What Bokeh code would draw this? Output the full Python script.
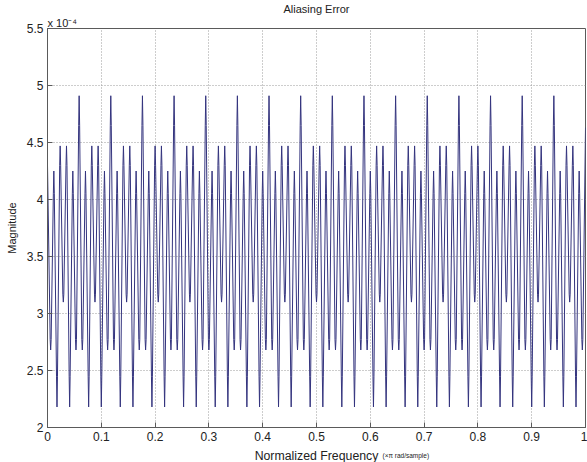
import numpy as np
from bokeh.plotting import figure
from bokeh.layouts import column
from bokeh.models import FixedTicker, CustomJSTickFormatter, Range1d, Title
from bokeh.core.properties import value
from bokeh.embed import file_html
from bokeh.resources import INLINE

FONT = "Liberation Sans"
INK = "#222222"
FRAME = "#5a5a5a"

# Extrema of the aliasing error fall on a uniform 1/170 grid (x pi rad/sample)
n_steps = 170
freq_grid = np.linspace(0.0, 1.0, n_steps + 1)

# Magnitude at each extremum, in units of 1e-4 (peak, dip, peak, dip, ...);
# each row spans one 1/17-wide period
extrema = [
    4.30, 2.68, 4.25, 2.18, 4.47, 3.10, 4.47, 2.18, 4.25, 2.68,
    4.91, 2.68, 4.25, 2.18, 4.47, 3.10, 4.47, 2.18, 4.25, 2.68,
    4.91, 2.68, 4.25, 2.18, 4.47, 3.10, 4.47, 2.18, 4.25, 2.68,
    4.91, 2.68, 4.25, 2.18, 4.47, 3.10, 4.47, 2.18, 4.25, 2.68,
    4.91, 2.68, 4.25, 2.18, 4.47, 3.10, 4.47, 2.18, 4.25, 2.68,
    4.91, 2.68, 4.25, 2.18, 4.47, 3.10, 4.47, 2.18, 4.25, 2.68,
    4.91, 2.68, 4.25, 2.18, 4.47, 3.10, 4.47, 2.18, 4.25, 2.68,
    4.91, 2.68, 4.25, 2.18, 4.47, 3.10, 4.47, 2.18, 4.25, 2.68,
    4.91, 2.68, 4.25, 2.18, 4.47, 3.10, 4.47, 2.18, 4.25, 2.68,
    4.91, 2.68, 4.25, 2.18, 4.47, 3.10, 4.47, 2.18, 4.25, 2.68,
    4.91, 2.68, 4.25, 2.18, 4.47, 3.10, 4.47, 2.18, 4.25, 2.68,
    4.91, 2.68, 4.25, 2.18, 4.47, 3.10, 4.47, 2.18, 4.25, 2.68,
    4.91, 2.68, 4.25, 2.18, 4.47, 3.10, 4.47, 2.18, 4.25, 2.68,
    4.91, 2.68, 4.25, 2.18, 4.47, 3.10, 4.47, 2.18, 4.25, 2.68,
    4.91, 2.68, 4.25, 2.18, 4.47, 3.10, 4.47, 2.18, 4.25, 2.68,
    4.91, 2.68, 4.25, 2.18, 4.47, 3.10, 4.47, 2.18, 4.25, 2.68,
    4.91, 2.68, 4.25, 2.18, 4.47, 3.10, 4.47, 2.18, 4.25, 2.68,
    4.63,
]

# Level at which the thin tip of each extremum opens into its flanks
shoulders = [
    4.30, 2.77, 4.05, 2.45, 4.30, 3.17, 4.30, 2.45, 4.05, 2.77,
    4.65, 2.77, 4.05, 2.45, 4.30, 3.17, 4.30, 2.45, 4.05, 2.77,
    4.65, 2.77, 4.05, 2.45, 4.30, 3.17, 4.30, 2.45, 4.05, 2.77,
    4.65, 2.77, 4.05, 2.45, 4.30, 3.17, 4.30, 2.45, 4.05, 2.77,
    4.65, 2.77, 4.05, 2.45, 4.30, 3.17, 4.30, 2.45, 4.05, 2.77,
    4.65, 2.77, 4.05, 2.45, 4.30, 3.17, 4.30, 2.45, 4.05, 2.77,
    4.65, 2.77, 4.05, 2.45, 4.30, 3.17, 4.30, 2.45, 4.05, 2.77,
    4.65, 2.77, 4.05, 2.45, 4.30, 3.17, 4.30, 2.45, 4.05, 2.77,
    4.65, 2.77, 4.05, 2.45, 4.30, 3.17, 4.30, 2.45, 4.05, 2.77,
    4.65, 2.77, 4.05, 2.45, 4.30, 3.17, 4.30, 2.45, 4.05, 2.77,
    4.65, 2.77, 4.05, 2.45, 4.30, 3.17, 4.30, 2.45, 4.05, 2.77,
    4.65, 2.77, 4.05, 2.45, 4.30, 3.17, 4.30, 2.45, 4.05, 2.77,
    4.65, 2.77, 4.05, 2.45, 4.30, 3.17, 4.30, 2.45, 4.05, 2.77,
    4.65, 2.77, 4.05, 2.45, 4.30, 3.17, 4.30, 2.45, 4.05, 2.77,
    4.65, 2.77, 4.05, 2.45, 4.30, 3.17, 4.30, 2.45, 4.05, 2.77,
    4.65, 2.77, 4.05, 2.45, 4.30, 3.17, 4.30, 2.45, 4.05, 2.77,
    4.65, 2.77, 4.05, 2.45, 4.30, 3.17, 4.30, 2.45, 4.05, 2.77,
    4.63,
]

x_ticks = [0, 0.1, 0.2, 0.3, 0.4, 0.5, 0.6, 0.7, 0.8, 0.9, 1]
y_ticks = [2, 2.5, 3, 3.5, 4, 4.5, 5, 5.5]

# Trace: each extremum is a narrow tip sitting on top of its shoulder level
tip_halfwidth = 0.0009
xs, ys = [], []
for f, e, s in zip(freq_grid, extrema, shoulders):
    if e == s:
        xs.append(f)
        ys.append(e)
    else:
        xs += [f - tip_halfwidth, f, f + tip_halfwidth]
        ys += [s, e, s]

LEFT, RIGHT = 47, 2

# Main axes
p = figure(
    width=587, height=445, output_backend="svg", toolbar_location=None,
    x_range=Range1d(0, 1), y_range=Range1d(2, 5.5),
    min_border_left=LEFT, min_border_right=RIGHT, min_border_top=28, min_border_bottom=18,
    title=None,
)
p.background_fill_color = "white"
p.border_fill_color = "white"
p.outline_line_color = FRAME

p.line(xs, ys, line_color="#34347e", line_width=1)

label_fmt = CustomJSTickFormatter(code="return String(tick);")
for ax, ticks in ((p.xaxis[0], x_ticks), (p.yaxis[0], y_ticks)):
    ax.ticker = FixedTicker(ticks=ticks)
    ax.formatter = label_fmt
    ax.major_tick_in = 5
    ax.major_tick_out = 0
    ax.minor_tick_line_color = None
    ax.axis_line_color = FRAME
    ax.major_tick_line_color = FRAME
    ax.major_label_text_font = FONT
    ax.major_label_text_font_size = "12px"
    ax.major_label_text_color = INK
    ax.major_label_standoff = 4

p.yaxis.axis_label = "Magnitude"
p.yaxis.axis_label_text_font = FONT
p.yaxis.axis_label_text_font_size = "11px"
p.yaxis.axis_label_text_font_style = "normal"
p.yaxis.axis_label_text_color = INK
p.yaxis.axis_label_standoff = 6

p.xgrid.ticker = FixedTicker(ticks=x_ticks)
p.ygrid.ticker = FixedTicker(ticks=y_ticks)
for g in (p.xgrid, p.ygrid):
    g.grid_line_color = "#9a9a9a"
    g.grid_line_dash = "1 2"
    g.grid_line_width = 1

# Exponent multiplier above the y axis, then the chart title on top of it
p.add_layout(Title(text="x 10\u207b\u2074", align="left", text_font=FONT,
                   text_font_size="11px", text_font_style="normal", text_color=INK,
                   standoff=0), "above")
p.add_layout(Title(text="Aliasing Error", align="center", text_font=FONT,
                   text_font_size="11px", text_font_style="normal", text_color=INK,
                   standoff=0), "above")

# Strip under the axes carrying the x axis title and its small unit note;
# its x range is in page pixels over the same frame span as the axes above
strip = figure(
    width=587, height=17, output_backend="svg", toolbar_location=None,
    x_range=Range1d(LEFT, 587 - RIGHT), y_range=Range1d(0, 17),
    x_axis_location=None, y_axis_location=None,
    min_border_left=LEFT, min_border_right=RIGHT, min_border_top=0, min_border_bottom=0,
)
strip.outline_line_color = None
strip.grid.visible = False
strip.background_fill_color = "white"
strip.border_fill_color = "white"
strip.text(x=[316], y=[7], text=["Normalized Frequency"], text_align="center",
           text_baseline="alphabetic", text_font=value(FONT), text_font_size="12.3px",
           text_color=INK)
strip.text(x=[382], y=[7], text=["(\u00d7\u03c0 rad/sample)"], text_align="left",
           text_baseline="alphabetic", text_font=value(FONT), text_font_size="6.5px",
           text_color=INK)

layout = column(p, strip, spacing=0)
open("out.html", "w").write(file_html(layout, INLINE))
